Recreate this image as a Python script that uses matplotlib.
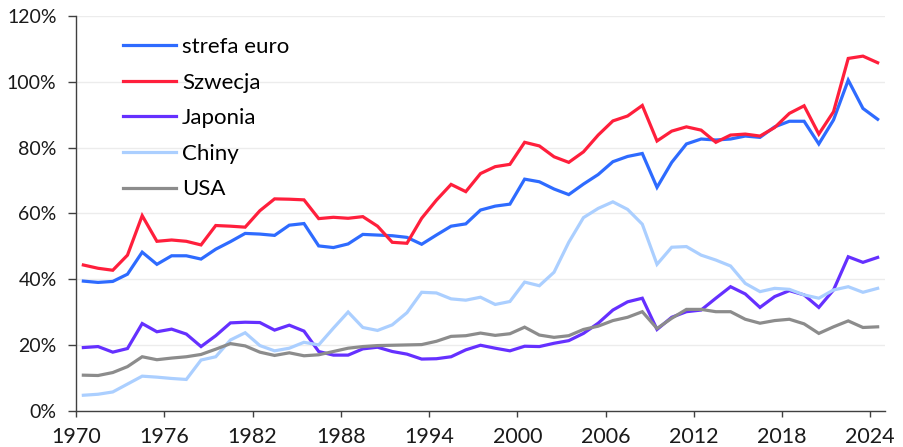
import matplotlib
matplotlib.use('Agg')
import matplotlib.pyplot as plt
import numpy as np

years = np.arange(1970, 2025)

strefa_euro = [39.4, 39.0, 39.3, 41.5, 48.2, 44.5, 47.1, 47.1, 46.1, 49.1,
               51.4, 53.9, 53.7, 53.3, 56.4, 56.9, 50.1, 49.6, 50.7, 53.6,
               53.4, 53.2, 52.7, 50.6, 53.4, 56.1, 56.8, 61.0, 62.2, 62.8,
               70.4, 69.6, 67.4, 65.7, 68.9, 71.8, 75.7, 77.3, 78.2, 67.9,
               75.5, 81.1, 82.6, 82.3, 82.6, 83.5, 83.1, 86.3, 88.0, 88.0,
               81.1, 88.4, 100.5, 91.9, 88.6]
szwecja = [44.3, 43.3, 42.7, 47.3, 59.3, 51.5, 51.9, 51.5, 50.4, 56.3,
           56.1, 55.8, 60.8, 64.4, 64.3, 64.1, 58.4, 58.8, 58.5, 59.0,
           56.1, 51.2, 50.9, 58.5, 64.0, 68.8, 66.6, 72.1, 74.2, 74.9,
           81.6, 80.5, 77.2, 75.5, 78.7, 83.8, 88.1, 89.6, 92.8, 82.0,
           85.0, 86.3, 85.3, 81.6, 83.8, 84.1, 83.5, 86.1, 90.4, 92.7,
           84.1, 90.9, 107.1, 107.8, 105.8]
japonia = [19.2, 19.5, 17.8, 18.9, 26.5, 24.0, 24.8, 23.3, 19.5, 22.8,
           26.7, 26.9, 26.8, 24.5, 26.0, 24.2, 18.0, 16.9, 16.9, 18.8,
           19.3, 18.0, 17.2, 15.7, 15.8, 16.4, 18.5, 19.9, 19.0, 18.2,
           19.6, 19.5, 20.5, 21.3, 23.5, 26.6, 30.6, 33.1, 34.2, 24.7,
           28.4, 30.1, 30.6, 34.2, 37.7, 35.5, 31.4, 34.7, 36.5, 35.2,
           31.4, 36.7, 46.8, 45.1, 46.6]
chiny = [4.7, 5.0, 5.7, 8.1, 10.5, 10.2, 9.8, 9.5, 15.4, 16.4,
         21.5, 23.7, 19.8, 18.2, 19.0, 20.8, 20.0, 25.1, 30.0, 25.3,
         24.4, 26.1, 29.8, 36.0, 35.8, 34.0, 33.6, 34.5, 32.3, 33.2,
         39.1, 38.0, 42.1, 51.2, 58.7, 61.5, 63.5, 61.2, 56.7, 44.5,
         49.7, 49.9, 47.3, 45.8, 44.0, 38.7, 36.2, 37.2, 36.9, 35.2,
         34.2, 36.7, 37.7, 36.0, 37.2]
usa = [10.8, 10.7, 11.6, 13.4, 16.4, 15.5, 16.0, 16.4, 17.1, 18.7,
       20.4, 19.7, 17.8, 16.8, 17.6, 16.7, 17.0, 18.0, 19.0, 19.5,
       19.8, 19.9, 20.0, 20.1, 21.1, 22.6, 22.8, 23.6, 22.9, 23.4,
       25.4, 23.0, 22.3, 22.8, 24.7, 25.7, 27.4, 28.4, 30.1, 25.0,
       28.1, 30.8, 30.8, 30.1, 30.1, 27.8, 26.6, 27.4, 27.8, 26.4,
       23.5, 25.5, 27.3, 25.3, 25.5]

series = [('strefa euro', strefa_euro, '#2e6bff'),
          ('Szwecja', szwecja, '#ff1f3c'),
          ('Japonia', japonia, '#6530ff'),
          ('Chiny', chiny, '#abcfff'),
          ('USA', usa, '#8c8c8c')]

plt.rcParams['font.family'] = ['Lato', 'DejaVu Sans']

fig = plt.figure(figsize=(9.04, 4.47), dpi=100)
ax = fig.add_axes([76 / 904, 1 - 410.7 / 447, 809 / 904, 394.7 / 447])

# points sit in the middle of each year band, like an Excel category axis
for name, vals, color in series:
    ax.plot(years + 0.5, vals, color=color, lw=2.3, label=name,
            solid_joinstyle='miter')

ax.set_xlim(1970, 2025)
ax.set_ylim(0, 120)
ax.set_xticks(np.arange(1970, 2025, 6))
ax.set_yticks(np.arange(0, 121, 20))
ax.set_yticklabels([f'{v}%' for v in range(0, 121, 20)])
ax.grid(axis='y', color='#ececec', lw=1)
ax.set_axisbelow(True)

for s in ['top', 'right']:
    ax.spines[s].set_visible(False)
for s in ['left', 'bottom']:
    ax.spines[s].set_color('#404040')
    ax.spines[s].set_linewidth(1)
ax.tick_params(axis='both', colors='#404040', labelcolor='#1a1a1a', width=1)
ax.tick_params(axis='y', labelsize=14, length=5.5, pad=8.5)
ax.tick_params(axis='x', labelsize=15.5, length=4.5, pad=7.5)

ax.legend(loc='upper left', bbox_to_anchor=(0.047, 0.969), frameon=False,
          fontsize=16, handlelength=2.4, handletextpad=0.25,
          labelspacing=0.7, borderaxespad=0)

fig.savefig('out.png', dpi=100)
